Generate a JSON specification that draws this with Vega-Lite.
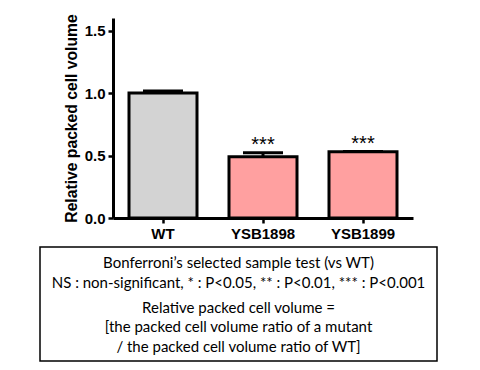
{
  "$schema": "https://vega.github.io/schema/vega-lite/v6.json",
  "padding": {"left": 39, "top": 12, "right": 0, "bottom": 0},
  "spacing": 5,
  "config": {
    "view": {"stroke": null},
    "font": "Liberation Sans",
    "axis": {
      "domainColor": "black", "domainWidth": 3, "tickColor": "black", "tickWidth": 2.5, "tickSize": 5,
      "labelColor": "black", "labelFont": "Liberation Sans", "labelFontWeight": "bold", "labelFontSize": 15,
      "titleColor": "black", "titleFont": "Liberation Sans", "grid": false
    }
  },
  "vconcat": [
    {
      "spacing": 0,
      "hconcat": [
        {
          "width": 23,
          "height": 1,
          "data": {"values": [{}]},
          "mark": {"type": "text", "text": ""}
        },
        {
          "width": 300,
          "height": 200,
          "data": {"values": [
            {"strain": "WT", "value": 1.0, "upper": 1.016, "sig": "", "group": "wt"},
            {"strain": "YSB1898", "value": 0.49, "upper": 0.523, "sig": "***", "group": "mutant"},
            {"strain": "YSB1899", "value": 0.53, "upper": 0.532, "sig": "***", "group": "mutant"}
          ]},
          "encoding": {
            "x": {"field": "strain", "type": "nominal", "sort": null,
              "scale": {"paddingInner": 0.32, "paddingOuter": 0.16},
              "axis": {"title": null, "labelAngle": 0, "labelPadding": 3}}
          },
          "layer": [
            {
              "mark": {"type": "bar", "stroke": "black", "strokeWidth": 3},
              "encoding": {
                "y": {"field": "value", "type": "quantitative",
                  "scale": {"domain": [0, 1.5]},
                  "axis": {"values": [0, 0.5, 1, 1.5], "format": ".1f", "title": "Relative packed cell volume",
                    "titleFontSize": 15.7, "titleFontWeight": "bold", "labelPadding": 3, "titlePadding": 5}},
                "fill": {"field": "group", "type": "nominal",
                  "scale": {"domain": ["wt", "mutant"], "range": ["#d3d3d3", "#ffa0a0"]}, "legend": null}
              }
            },
            {
              "mark": {"type": "rule", "stroke": "black", "strokeWidth": 3},
              "encoding": {"y": {"field": "value", "type": "quantitative"}, "y2": {"field": "upper"}}
            },
            {
              "mark": {"type": "tick", "color": "black", "size": 40, "thickness": 3, "opacity": 1},
              "encoding": {"y": {"field": "upper", "type": "quantitative"}}
            },
            {
              "mark": {"type": "text", "fontSize": 20, "color": "black", "baseline": "alphabetic", "dy": -2},
              "encoding": {"y": {"field": "upper", "type": "quantitative"}, "text": {"field": "sig"}}
            }
          ]
        }
      ]
    },
    {
      "width": 397,
      "height": 114,
      "view": {"stroke": "black", "strokeWidth": 1.5},
      "data": {"values": [
        {"block": 1, "text": ["Bonferroni’s selected sample test (vs WT)", "NS : non-significant, * : P<0.05, ** : P<0.01, *** : P<0.001"]},
        {"block": 2, "text": ["Relative packed cell volume =", "[the packed cell volume ratio of a mutant", "/ the packed cell volume ratio of WT]"]}
      ]},
      "mark": {"type": "text", "font": "Lato", "fontSize": 15, "color": "black", "lineHeight": 19.5, "baseline": "middle", "align": "center"},
      "encoding": {
        "y": {"field": "block", "type": "ordinal", "scale": {"type": "point", "padding": 0.767, "align": 0.232}, "axis": null},
        "text": {"field": "text"}
      }
    }
  ]
}
